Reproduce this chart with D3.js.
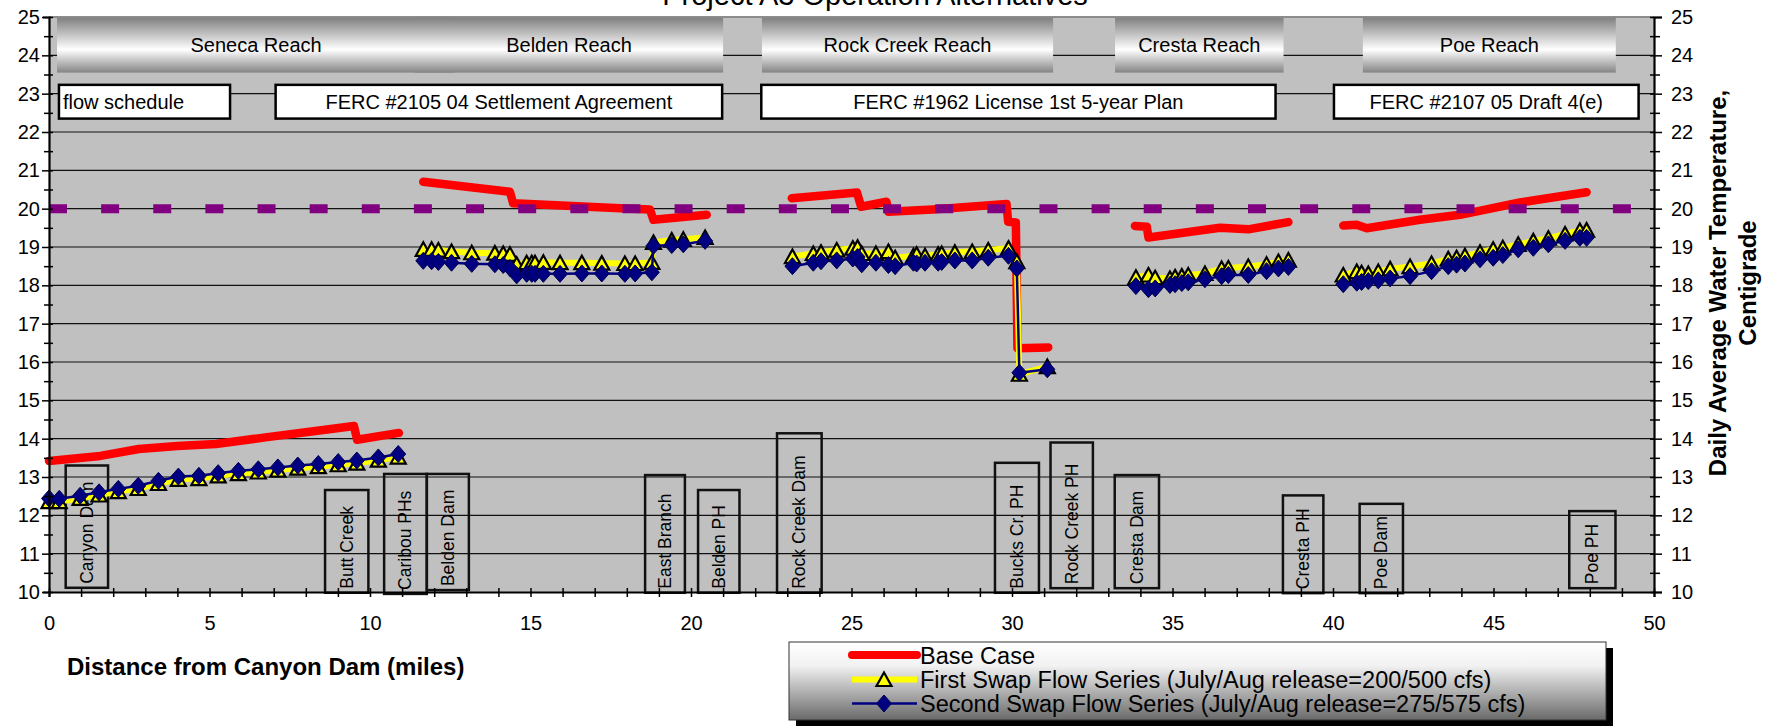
<!DOCTYPE html>
<html>
<head>
<meta charset="utf-8">
<script src="https://cdn.jsdelivr.net/npm/d3@7"></script>
<style>
  body { margin: 0; background: #fff; }
  text { font-family: Arial, "Liberation Sans", sans-serif; }
</style>
</head>
<body>
<div id="chart"></div>
<script>
// ---- data (miles from Canyon Dam, deg C) ----
var senecaMiles  = [0, 0.32, 0.97, 1.56, 2.16, 2.78, 3.41, 4.03, 4.67, 5.27, 5.90, 6.52, 7.13, 7.75, 8.39, 9.01, 9.59, 10.26, 10.88];
var senecaFirst  = [12.36, 12.36, 12.44, 12.53, 12.62, 12.70, 12.83, 12.94, 12.96, 13.03, 13.09, 13.13, 13.18, 13.23, 13.27, 13.32, 13.36, 13.44, 13.52];
var senecaSecond = [12.44, 12.43, 12.51, 12.60, 12.69, 12.77, 12.90, 13.01, 13.03, 13.10, 13.16, 13.20, 13.25, 13.30, 13.34, 13.39, 13.43, 13.51, 13.60];

var beldenMiles  = [11.66, 11.92, 12.13, 12.54, 13.17, 13.89, 14.15, 14.36, 14.57, 14.88, 15.04, 15.14, 15.40, 15.92, 16.60, 17.22, 17.94, 18.26, 18.78, 18.83, 19.40, 19.76, 20.44];
var beldenFirst  = [18.94, 18.94, 18.92, 18.88, 18.85, 18.84, 18.83, 18.81, 18.55, 18.59, 18.59, 18.59, 18.60, 18.59, 18.59, 18.58, 18.57, 18.57, 18.60, 19.12, 19.18, 19.20, 19.25];
var beldenSecond = [18.64, 18.63, 18.61, 18.59, 18.56, 18.55, 18.53, 18.45, 18.26, 18.30, 18.30, 18.30, 18.30, 18.30, 18.31, 18.31, 18.30, 18.31, 18.34, 19.03, 19.05, 19.07, 19.16];

var rockMiles    = [23.16, 23.81, 24.05, 24.54, 25.04, 25.19, 25.32, 25.76, 26.15, 26.36, 26.93, 27.03, 27.29, 27.70, 27.81, 28.22, 28.76, 29.26, 29.89, 30.15, 30.23, 31.10];
var rockFirst    = [18.75, 18.83, 18.86, 18.92, 18.97, 18.99, 18.83, 18.83, 18.88, 18.72, 18.77, 18.81, 18.77, 18.81, 18.83, 18.86, 18.88, 18.92, 18.97, 18.62, 15.68, 15.88];
var rockSecond   = [18.50, 18.59, 18.63, 18.65, 18.70, 18.74, 18.55, 18.59, 18.53, 18.50, 18.59, 18.57, 18.59, 18.59, 18.61, 18.65, 18.65, 18.72, 18.77, 18.44, 15.72, 15.81];

var crestaMiles  = [33.86, 34.25, 34.46, 34.92, 35.08, 35.29, 35.49, 36.01, 36.53, 36.74, 37.36, 37.93, 38.30, 38.61];
var crestaFirst  = [18.21, 18.27, 18.20, 18.18, 18.22, 18.24, 18.27, 18.31, 18.44, 18.45, 18.49, 18.55, 18.62, 18.66];
var crestaSecond = [17.98, 17.90, 17.92, 18.01, 18.03, 18.06, 18.08, 18.16, 18.24, 18.27, 18.27, 18.37, 18.44, 18.48];

var poeMiles     = [40.32, 40.74, 40.89, 41.10, 41.41, 41.78, 42.40, 43.07, 43.59, 43.85, 44.11, 44.58, 44.99, 45.29, 45.77, 46.24, 46.71, 47.23, 47.69, 47.90];
var poeFirst     = [18.27, 18.36, 18.33, 18.31, 18.36, 18.43, 18.49, 18.57, 18.69, 18.72, 18.77, 18.86, 18.94, 18.98, 19.07, 19.16, 19.23, 19.34, 19.43, 19.44];
var poeSecond    = [18.03, 18.07, 18.09, 18.11, 18.13, 18.18, 18.24, 18.37, 18.50, 18.54, 18.57, 18.68, 18.72, 18.79, 18.94, 18.98, 19.07, 19.16, 19.24, 19.24];

var baseSeneca = [[0, 13.42], [1.6, 13.55], [2.8, 13.73], [4.0, 13.81], [5.2, 13.86], [6.8, 14.04], [8.3, 14.20], [9.5, 14.33], [9.6, 13.97], [10.9, 14.15]];
var baseBelden = [[11.66, 20.70], [14.36, 20.44], [14.46, 20.14], [17.79, 20.01], [18.72, 19.98], [18.83, 19.71], [20.49, 19.84]];
var baseRock   = [[23.14, 20.27], [25.17, 20.42], [25.30, 20.05], [26.09, 20.18], [26.15, 19.92], [27.53, 19.98], [29.83, 20.12], [29.88, 19.66], [30.12, 19.64], [30.17, 16.36], [31.13, 16.38]];
var baseCresta = [[33.83, 19.55], [34.20, 19.53], [34.25, 19.25], [36.48, 19.50], [37.36, 19.46], [38.61, 19.65]];
var basePoe    = [[40.32, 19.56], [40.74, 19.58], [41.05, 19.49], [42.71, 19.71], [43.96, 19.84], [45.82, 20.16], [47.90, 20.43]];

var criterion = 20;   // dashed purple reference at 20 C

var reachNames = ["Seneca Reach", "Belden Reach", "Rock Creek Reach", "Cresta Reach", "Poe Reach"];
var reachStart = [0.25, 11.40, 22.21, 33.21, 40.93];
var reachEnd   = [12.65, 21.00, 31.28, 38.46, 48.81];

var scheduleNames = ["flow schedule", "FERC #2105 04 Settlement Agreement", "FERC #1962 License 1st 5-year Plan", "FERC #2107 05 Draft 4(e)"];
var scheduleStart = [0.31, 7.06, 22.19, 40.03];
var scheduleEnd   = [5.64, 20.97, 38.21, 49.52];

var siteNames  = ["Canyon Dam", "Butt Creek", "Caribou PHs", "Belden Dam", "East Branch", "Belden PH", "Rock Creek Dam", "Bucks Cr. PH", "Rock Creek PH", "Cresta Dam", "Cresta PH", "Poe Dam", "Poe PH"];
var siteStart  = [0.52, 8.60, 10.44, 11.77, 18.57, 20.22, 22.68, 29.47, 31.20, 33.20, 38.44, 40.83, 47.36];
var siteEnd    = [1.84, 9.95, 11.77, 13.08, 19.81, 21.51, 24.07, 30.84, 32.52, 34.58, 39.70, 42.18, 48.80];
var siteTop    = [13.30, 12.66, 13.08, 13.08, 13.05, 12.66, 14.14, 13.37, 13.90, 13.05, 12.52, 12.30, 12.11];
var siteBottom = [10.11, 9.98, 9.95, 10.05, 9.98, 9.98, 9.98, 9.98, 10.10, 10.10, 9.97, 9.97, 10.10];

var legendLabels = ["Base Case", "First Swap Flow Series (July/Aug release=200/500 cfs)", "Second Swap Flow Series (July/Aug release=275/575 cfs)"];

// ---- layout ----
var W = 1779, H = 726;
var margin = {top: 17, right: 125, bottom: 134, left: 49},
    width = W - margin.left - margin.right,
    height = H - margin.top - margin.bottom;

var svg = d3.select("#chart").append("svg")
    .attr("width", W).attr("height", H);

var defs = svg.append("defs");
var btn = defs.append("linearGradient").attr("id", "btn").attr("x1", 0).attr("y1", 0).attr("x2", 0).attr("y2", 1);
btn.append("stop").attr("offset", "0").attr("stop-color", "#808080");
btn.append("stop").attr("offset", "0.58").attr("stop-color", "#ffffff");
btn.append("stop").attr("offset", "1").attr("stop-color", "#848484");
var lg = defs.append("linearGradient").attr("id", "leg").attr("x1", 0).attr("y1", 0).attr("x2", 0).attr("y2", 1);
lg.append("stop").attr("offset", "0").attr("stop-color", "#ffffff");
lg.append("stop").attr("offset", "0.3").attr("stop-color", "#f2f2f2");
lg.append("stop").attr("offset", "1").attr("stop-color", "#6a6a6a");

// title, clipped at the top edge like the original
svg.append("text")
    .attr("x", 875).attr("y", 5)
    .attr("text-anchor", "middle")
    .style("font-size", "29px")
    .text("Project A3 Operation Alternatives");

var g = svg.append("g").attr("transform", "translate(" + margin.left + "," + margin.top + ")");

var x = d3.scaleLinear().domain([0, 50]).range([0, width]);
var y = d3.scaleLinear().domain([10, 25]).range([height, 0]);

g.append("rect").attr("width", width).attr("height", height).attr("fill", "#c0c0c0");
g.append("line").attr("x1", 0).attr("x2", width).attr("y1", 0).attr("y2", 0)
    .attr("stroke", "#8c8c8c").attr("stroke-width", 2);

// gridlines
g.append("g").selectAll("line")
  .data(d3.range(11, 25))
  .enter().append("line")
    .attr("x1", 0).attr("x2", width)
    .attr("y1", function(d) { return y(d); })
    .attr("y2", function(d) { return y(d); })
    .attr("stroke", "#111").attr("stroke-width", 1.2);

// facility boxes
var sites = g.append("g").selectAll("g")
  .data(siteNames)
  .enter().append("g");
sites.append("rect")
    .attr("x", function(d, i) { return x(siteStart[i]); })
    .attr("y", function(d, i) { return y(siteTop[i]); })
    .attr("width", function(d, i) { return x(siteEnd[i]) - x(siteStart[i]); })
    .attr("height", function(d, i) { return y(siteBottom[i]) - y(siteTop[i]); })
    .attr("fill", "none").attr("stroke", "#111").attr("stroke-width", 2.5);
sites.append("text")
    .attr("transform", function(d, i) {
      return "translate(" + ((x(siteStart[i]) + x(siteEnd[i])) / 2 + 6) + "," + (y(siteBottom[i]) - 4) + ") rotate(-90)";
    })
    .style("font-size", "17.5px")
    .text(function(d) { return d; });

// reach header buttons
var reaches = g.append("g").selectAll("g")
  .data(reachNames)
  .enter().append("g");
reaches.append("rect")
    .attr("x", function(d, i) { return x(reachStart[i]); })
    .attr("y", y(24.98))
    .attr("width", function(d, i) { return x(reachEnd[i]) - x(reachStart[i]); })
    .attr("height", y(23.55) - y(24.98))
    .attr("fill", "url(#btn)");
reaches.append("text")
    .attr("x", function(d, i) { return (x(reachStart[i]) + x(reachEnd[i])) / 2; })
    .attr("y", y(24.26) + 7)
    .attr("text-anchor", "middle")
    .style("font-size", "20px")
    .text(function(d) { return d; });

// flow schedule labels
var sched = g.append("g").selectAll("g")
  .data(scheduleNames)
  .enter().append("g");
sched.append("rect")
    .attr("x", function(d, i) { return x(scheduleStart[i]); })
    .attr("y", y(23.23))
    .attr("width", function(d, i) { return x(scheduleEnd[i]) - x(scheduleStart[i]); })
    .attr("height", y(22.35) - y(23.23))
    .attr("fill", "#fff").attr("stroke", "#000").attr("stroke-width", 2.5);
sched.append("text")
    .attr("x", function(d, i) { return i == 0 ? x(scheduleStart[i]) + 4 : (x(scheduleStart[i]) + x(scheduleEnd[i])) / 2; })
    .attr("y", y(22.79) + 7)
    .attr("text-anchor", function(d, i) { return i == 0 ? "start" : "middle"; })
    .style("font-size", "20px")
    .text(function(d) { return d; });

// ---- series ----
var reachMiles = [senecaMiles, beldenMiles, rockMiles, crestaMiles, poeMiles];
var firstSwap  = [senecaFirst, beldenFirst, rockFirst, crestaFirst, poeFirst];
var secondSwap = [senecaSecond, beldenSecond, rockSecond, crestaSecond, poeSecond];
var baseCase   = [baseSeneca, baseBelden, baseRock, baseCresta, basePoe];

function pairs(miles, temps) { return miles.map(function(m, j) { return [m, temps[j]]; }); }
var firstSeg  = reachMiles.map(function(ms, i) { return pairs(ms, firstSwap[i]); });
var secondSeg = reachMiles.map(function(ms, i) { return pairs(ms, secondSwap[i]); });

var line = d3.line()
    .x(function(d) { return x(d[0]); })
    .y(function(d) { return y(d[1]); });

g.append("g").selectAll("path")
  .data(baseCase)
  .enter().append("path")
    .attr("d", line)
    .attr("fill", "none").attr("stroke", "#ff0000").attr("stroke-width", 8.5)
    .attr("stroke-linecap", "round").attr("stroke-linejoin", "round");

g.append("path")
    .attr("d", line([[0, criterion], [50, criterion]]))
    .attr("stroke", "#800080").attr("stroke-width", 9)
    .attr("stroke-dasharray", "18,34.13");

var tri = "M0,-7L7.5,6.5L-7.5,6.5Z";
var dia = "M0,-8.5L7.5,0L0,8.5L-7.5,0Z";

g.append("g").selectAll("path")
  .data(firstSeg)
  .enter().append("path")
    .attr("d", line)
    .attr("fill", "none").attr("stroke", "#ffff00").attr("stroke-width", 6);
g.append("g").selectAll("path")
  .data(d3.merge(firstSeg))
  .enter().append("path")
    .attr("d", tri)
    .attr("transform", function(d) { return "translate(" + x(d[0]) + "," + y(d[1]) + ")"; })
    .attr("fill", "#ffff00").attr("stroke", "#000").attr("stroke-width", 2.2)
    .attr("stroke-linejoin", "miter");

g.append("g").selectAll("path")
  .data(secondSeg)
  .enter().append("path")
    .attr("d", line)
    .attr("fill", "none").attr("stroke", "#000080").attr("stroke-width", 2.5);
g.append("g").selectAll("path")
  .data(d3.merge(secondSeg))
  .enter().append("path")
    .attr("d", dia)
    .attr("transform", function(d) { return "translate(" + x(d[0]) + "," + y(d[1]) + ")"; })
    .attr("fill", "#000080").attr("stroke", "#000050").attr("stroke-width", 1);

// ---- axes ----
var halfTicks = d3.range(10, 25.01, 0.5);
var yLeft = g.append("g")
    .call(d3.axisLeft(y).tickValues(halfTicks).tickSize(6).tickPadding(3)
      .tickFormat(function(d) { return d % 1 == 0 ? d : ""; }));
var yRight = g.append("g").attr("transform", "translate(" + width + ",0)")
    .call(d3.axisRight(y).tickValues(halfTicks).tickSize(8).tickPadding(9)
      .tickFormat(function(d) { return d % 1 == 0 ? d : ""; }));
var xAxis = g.append("g").attr("transform", "translate(0," + height + ")")
    .call(d3.axisBottom(x).tickValues(d3.range(0, 51)).tickSize(5).tickPadding(19)
      .tickFormat(function(d) { return d % 5 == 0 ? d : ""; }));

[yLeft, yRight, xAxis].forEach(function(ax) {
  ax.select(".domain").attr("stroke", "#000").attr("stroke-width", 2.2);
  ax.selectAll(".tick line").attr("stroke", "#000").attr("stroke-width", 1.5);
  ax.selectAll("text").style("font-size", "20px").attr("fill", "#000")
    .style("font-family", "Arial, 'Liberation Sans', sans-serif");
});
yLeft.selectAll(".tick line").attr("x2", function(d) { return d % 1 == 0 ? -7 : -5; }).attr("x1", 4);
yRight.selectAll(".tick line").attr("x2", function(d) { return d % 1 == 0 ? 8 : 6; }).attr("x1", -4);
xAxis.selectAll(".tick line").attr("y1", -4).attr("y2", 5);

// axis titles
svg.append("text")
    .attr("x", 67).attr("y", 675)
    .style("font-size", "24px").style("font-weight", "bold")
    .text("Distance from Canyon Dam (miles)");

var yTitle = svg.append("text")
    .attr("transform", "translate(1726,283) rotate(-90)")
    .attr("text-anchor", "middle")
    .style("font-size", "24px").style("font-weight", "bold");
yTitle.append("tspan").attr("x", 0).attr("dy", 0).text("Daily Average Water Temperature,");
yTitle.append("tspan").attr("x", 0).attr("dy", 30).text("Centigrade");

// ---- legend ----
var legend = svg.append("g").attr("transform", "translate(789,642)");
legend.append("rect").attr("x", 7).attr("y", 6).attr("width", 817).attr("height", 78).attr("fill", "#000");
legend.append("rect").attr("width", 817).attr("height", 78)
    .attr("fill", "url(#leg)").attr("stroke", "#333").attr("stroke-width", 1);

var rowY = [13, 37.5, 61.5];
var items = legend.selectAll("g.item")
  .data(legendLabels)
  .enter().append("g").attr("class", "item")
    .attr("transform", function(d, i) { return "translate(0," + rowY[i] + ")"; });
items.append("line")
    .attr("x1", 63).attr("x2", 128)
    .attr("stroke", function(d, i) { return ["#ff0000", "#ffff00", "#000080"][i]; })
    .attr("stroke-width", function(d, i) { return [8, 6, 2.5][i]; })
    .attr("stroke-linecap", function(d, i) { return i == 0 ? "round" : "butt"; });
items.filter(function(d, i) { return i == 1; }).append("path")
    .attr("d", tri).attr("transform", "translate(95,0)")
    .attr("fill", "#ffff00").attr("stroke", "#000").attr("stroke-width", 2.2);
items.filter(function(d, i) { return i == 2; }).append("path")
    .attr("d", dia).attr("transform", "translate(95,0)")
    .attr("fill", "#000080").attr("stroke", "#000050").attr("stroke-width", 1);
items.append("text")
    .attr("x", 131).attr("y", 8.5)
    .style("font-size", "23.5px")
    .text(function(d) { return d; });
</script>
</body>
</html>
